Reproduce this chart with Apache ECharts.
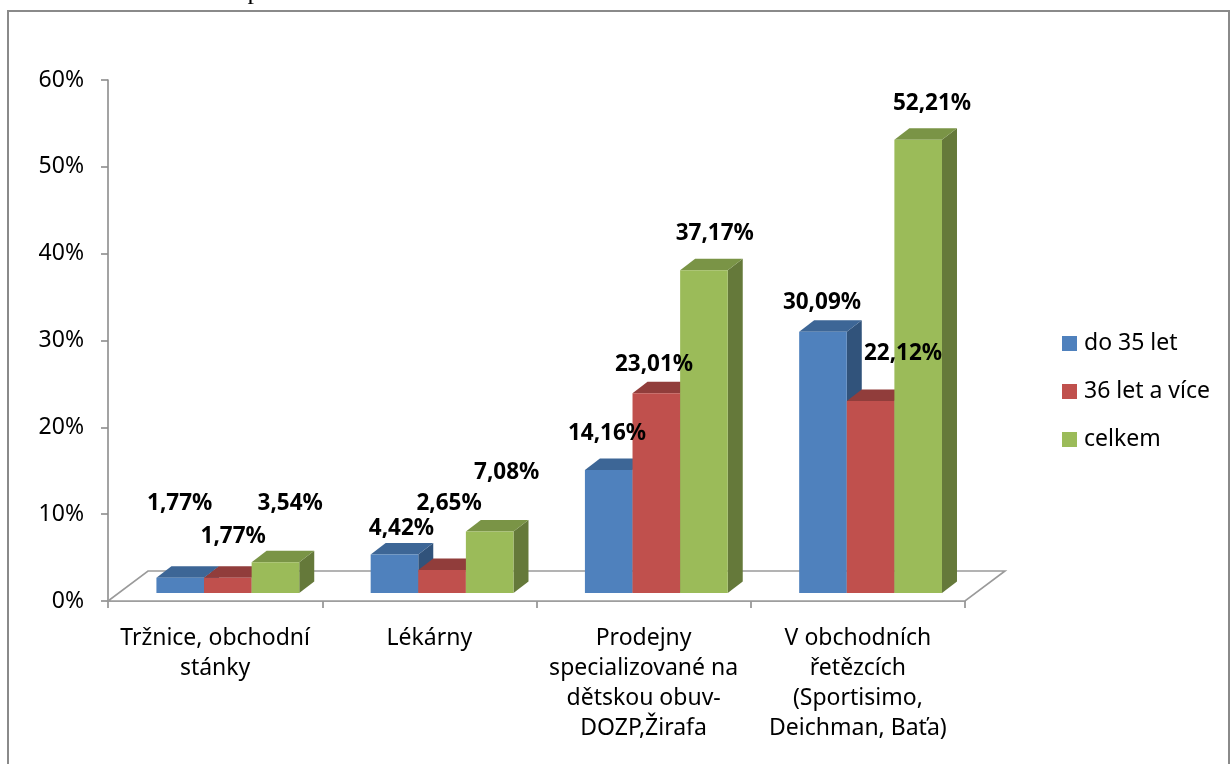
<!DOCTYPE html>
<html>
<head>
<meta charset="utf-8">
<script src="https://cdn.jsdelivr.net/npm/echarts@6/dist/echarts.min.js"></script>
<style>
  html, body { margin: 0; padding: 0; background: #ffffff; }
  #chart { width: 1230px; height: 764px; }
</style>
</head>
<body>
<div id="chart"></div>
<script>
// ---- data ----
const categories = [
  'Tržnice, obchodní\nstánky',
  'Lékárny',
  'Prodejny\nspecializované na\ndětskou obuv-\nDOZP,Žirafa',
  'V obchodních\nřetězcích\n(Sportisimo,\nDeichman, Baťa)'
];
const seriesNames = ['do 35 let', '36 let a více', 'celkem'];
const under35 = [1.77, 4.42, 14.16, 30.09];
const over36 = [1.77, 2.65, 23.01, 22.12];
const total = [3.54, 7.08, 37.17, 52.21];
const yMin = 0, yMax = 60, yStep = 10;

// ---- look ----
const FONT = '"Noto Sans", "DejaVu Sans", sans-serif';
const shades = [
  { front: '#4F81BD', top: '#3D6696', side: '#31537B' },
  { front: '#C0504D', top: '#913D3B', side: '#7C3331' },
  { front: '#9BBB59', top: '#7A9446', side: '#65793A' }
];
// extrusion of each bar (px) and of the floor plane
const BAR_DX = 15, BAR_DY = -11.5;
const FLOOR_DX = 40, FLOOR_DY = -30;
const LIFT = 8;          // bars stand slightly behind the front edge of the floor
// value labels, nudged from the top centre of each bar's front face (px)
const labelNudge = [
  [[-0.5, -73.6], [7, -26], [-1.7, -36], [-1, -28.7]],
  [[5.4, -40.6], [7, -66.5], [-2.3, -28.2], [32.4, -47]],
  [[14.8, -58.3], [17, -58.5], [10.8, -36.8], [13.8, -36.2]]
];

function fmtPct(v) {
  return v.toFixed(2).replace('.', ',') + '%';
}

function barRenderer(sIdx) {
  return function (params, api) {
    const cat = api.value(0);
    const v = api.value(1);
    const base = api.coord([cat, 0]);
    const topPt = api.coord([cat, v]);
    const band = api.size([1, 0])[0];
    const w = band * 0.2222;
    const x0 = base[0] - band * 0.274 + sIdx * w;
    const yb = base[1] - LIFT;
    const yt = topPt[1] - LIFT;
    const c = shades[sIdx];
    const nudge = labelNudge[sIdx][cat];
    const zb = sIdx * 3;
    return {
      type: 'group',
      children: [
        {
          type: 'polygon', z2: zb,
          shape: { points: [[x0 + w, yb], [x0 + w + BAR_DX, yb + BAR_DY], [x0 + w + BAR_DX, yt + BAR_DY], [x0 + w, yt]] },
          style: { fill: c.side }
        },
        {
          type: 'polygon', z2: zb + 1,
          shape: { points: [[x0, yt], [x0 + BAR_DX, yt + BAR_DY], [x0 + w + BAR_DX, yt + BAR_DY], [x0 + w, yt]] },
          style: { fill: c.top }
        },
        {
          type: 'rect', z2: zb + 2,
          shape: { x: x0, y: yt, width: w, height: yb - yt },
          style: { fill: c.front }
        },
        {
          type: 'text', z2: 100,
          x: x0 + w / 2 + nudge[0],
          y: yt + nudge[1],
          style: {
            text: fmtPct(v),
            align: 'center',
            verticalAlign: 'middle',
            font: 'bold 22.5px ' + FONT,
            fill: '#000000'
          }
        }
      ]
    };
  };
}

function floorRenderer(params, api) {
  const cs = params.coordSys;
  const y0 = cs.y + cs.height;
  const xl = cs.x, xr = cs.x + cs.width;
  return {
    type: 'polygon',
    shape: { points: [[xl, y0], [xr, y0], [xr + FLOOR_DX, y0 + FLOOR_DY], [xl + FLOOR_DX, y0 + FLOOR_DY]] },
    style: { fill: '#ffffff', stroke: '#9a9a9a', lineWidth: 1.6 }
  };
}

const valueSets = [under35, over36, total];
const barSeries = valueSets.map(function (vals, sIdx) {
  return {
    type: 'custom',
    name: seriesNames[sIdx],
    z: 3,
    itemStyle: { color: shades[sIdx].front },
    renderItem: barRenderer(sIdx),
    encode: { x: 0, y: 1 },
    data: vals.map(function (v, i) { return [i, v]; })
  };
});

const chart = echarts.init(document.getElementById('chart'), null, { renderer: 'canvas' });
chart.setOption({
  animation: false,
  backgroundColor: '#ffffff',
  color: shades.map(function (s) { return s.front; }),
  grid: { left: 108, top: 80, width: 857, height: 521, containLabel: false },
  legend: {
    orient: 'vertical',
    left: 1057,
    top: 327,
    padding: 5,
    icon: 'rect',
    itemWidth: 15,
    itemHeight: 15,
    itemGap: 25,
    data: seriesNames,
    textStyle: { fontFamily: FONT, fontSize: 23, color: '#000000', padding: [0, 0, 0, 2] }
  },
  xAxis: {
    type: 'category',
    data: categories,
    boundaryGap: true,
    axisLine: { show: true, lineStyle: { color: '#8c8c8c', width: 1.6 } },
    axisTick: { show: true, length: 7, lineStyle: { color: '#8c8c8c', width: 1.6 } },
    axisLabel: {
      interval: 0,
      margin: 22,
      fontFamily: FONT,
      fontSize: 23,
      lineHeight: 30,
      color: '#000000'
    },
    splitLine: { show: false }
  },
  yAxis: {
    type: 'value',
    min: yMin,
    max: yMax,
    interval: yStep,
    axisLine: { show: true, lineStyle: { color: '#8c8c8c', width: 1.6 } },
    axisTick: { show: true, length: 7, lineStyle: { color: '#8c8c8c', width: 1.6 } },
    axisLabel: {
      formatter: '{value}%',
      margin: 24,
      fontFamily: FONT,
      fontSize: 23,
      color: '#000000'
    },
    splitLine: { show: false }
  },
  graphic: [
    {
      type: 'rect',
      silent: true,
      shape: { x: 8, y: 11, width: 1221, height: 800 },
      style: { fill: null, stroke: '#8a8a8a', lineWidth: 2 }
    },
    {
      type: 'text',
      silent: true,
      x: 254, y: 5,
      style: { text: 'p', align: 'center', verticalAlign: 'bottom', font: '26px "Liberation Serif", serif', fill: '#000000' }
    }
  ],
  series: [
    {
      type: 'custom',
      name: 'floor',
      z: 1,
      silent: true,
      renderItem: floorRenderer,
      encode: { x: 0, y: 1 },
      data: [[0, 0]]
    }
  ].concat(barSeries)
});
</script>
</body>
</html>
